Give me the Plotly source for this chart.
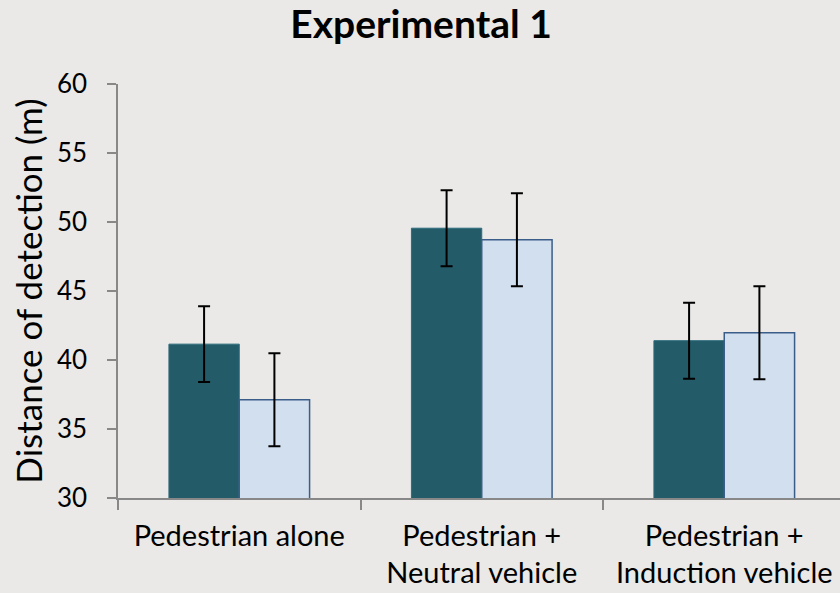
import plotly.graph_objects as go

categories = ["Pedestrian alone", "Pedestrian +<br>Neutral vehicle", "Pedestrian +<br>Induction vehicle"]
series_a = [41.15, 49.55, 41.4]
series_a_err = [2.75, 2.75, 2.75]
series_b = [37.12, 48.72, 41.98]
series_b_err = [3.37, 3.37, 3.37]
y_ticks = [30, 35, 40, 45, 50, 55, 60]

FONT = "Lato"
BG = "#EAE9E7"

fig = go.Figure()
fig.add_trace(go.Bar(
    x=categories, y=series_a,
    marker=dict(color="#235B69", line=dict(color="#2D6B7C", width=1)),
    error_y=dict(type="data", array=series_a_err, color="black", thickness=2, width=6),
    name="A",
))
fig.add_trace(go.Bar(
    x=categories, y=series_b,
    marker=dict(color="#D2DFEF", line=dict(color="#3A5E89", width=1.5)),
    error_y=dict(type="data", array=series_b_err, color="black", thickness=2, width=6),
    name="B",
))

fig.update_layout(
    width=840, height=593,
    paper_bgcolor=BG, plot_bgcolor=BG,
    margin=dict(l=118, r=0, t=84, b=95),
    barmode="group", bargap=0.42, bargroupgap=0,
    showlegend=False,
    font=dict(family=FONT, color="black"),
    title=dict(text="<b>Experimental 1</b>", x=421/840, xanchor="center", xref="container",
               y=1 - 24/593, yanchor="middle", yref="container",
               font=dict(family=FONT, size=39, color="black")),
)

fig.update_xaxes(
    type="category", range=[-0.5, -0.5 + 722/242.5],
    showline=True, linecolor="#888888", linewidth=1.5,
    ticks="outside", tickson="boundaries", ticklen=10, tickcolor="#888888", tickwidth=1.5,
    tickfont=dict(family=FONT, size=29, color="black"),
    ticklabelstandoff=11, automargin=False,
    showgrid=False, zeroline=False,
)
fig.update_yaxes(
    range=[30, 60], tickvals=y_ticks,
    showline=True, linecolor="#888888", linewidth=1.5,
    ticks="outside", ticklen=9, tickcolor="#888888", tickwidth=1.5,
    tickfont=dict(family=FONT, size=26, color="black"),
    ticklabelstandoff=15, automargin=False,
    showgrid=False, zeroline=False,
    title=dict(text="Distance of detection (m)", font=dict(family=FONT, size=35, color="black"), standoff=4),
)

fig.write_html("out.html", config={"displayModeBar": False},
               post_script="document.body.style.margin='0';document.body.style.padding='0';")
